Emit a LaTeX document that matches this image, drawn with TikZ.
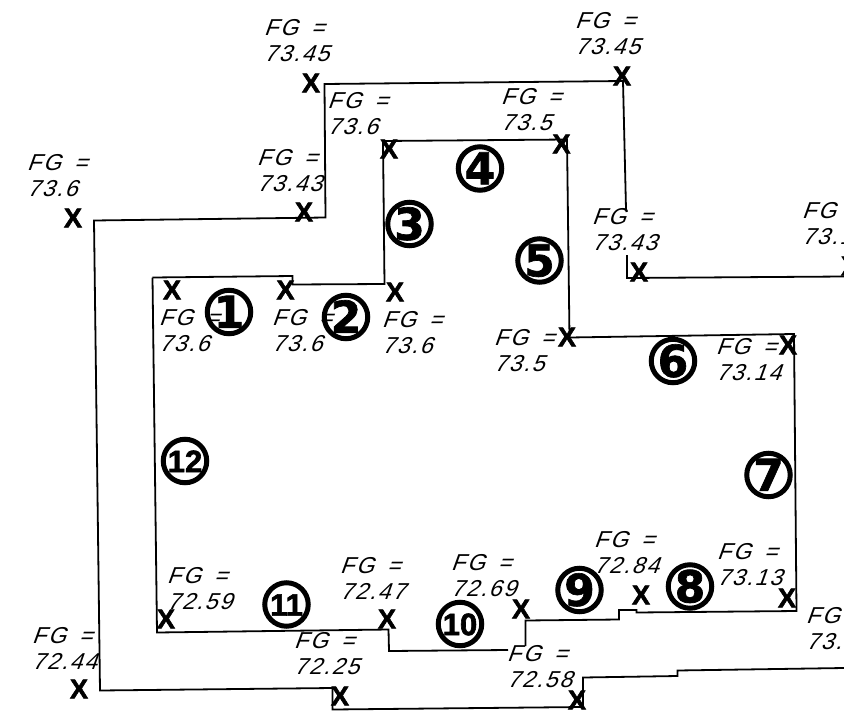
\documentclass[tikz,border=0pt]{standalone}
\usepackage{fontspec}
\setmainfont{Liberation Sans}
\newfontfamily\fgfont[FakeSlant=0.36,LetterSpace=8,WordSpace=1.6]{Liberation Sans}
\newfontfamily\spotfont[FakeBold=2]{Liberation Sans Bold}
\newfontfamily\numfont[FakeBold=1.5]{DejaVu Sans Bold}
\newfontfamily\smallfont[FakeBold=2]{Liberation Sans Bold}
\newcommand{\fg}[1]{FG =\\#1}
\newcommand{\dg}[1]{\makebox[0pt]{\raisebox{-0.36em}[0pt][0pt]{#1}}}
\begin{document}
\begin{tikzpicture}[x=1pt,y=-1pt,line width=1.8pt,
	fg label/.style={anchor=west,inner sep=0pt,align=left,font=\fgfont\fontsize{23}{26}\selectfont},
	spot/.style={inner sep=0pt,font=\spotfont\fontsize{27}{27}\selectfont},
	main node/.style={circle,draw,line width=5pt,minimum size=43.5pt,inner sep=0pt,font=\numfont\fontsize{44}{44}\selectfont},
	small node/.style={main node,font=\smallfont\fontsize{31}{31}\selectfont}]

	\clip (0,0) rectangle (844,718);

	\draw (844,276.5) -- (627,278) -- (627,255);
	\draw (626,209) -- (623,81) -- (324.5,84) -- (325.5,217.5) -- (94,220.5) -- (100,690.5) -- (332.5,688)
	-- (332.5,709.5) -- (583,707) -- (583,677.5) -- (677.5,676) -- (677.5,670.5) -- (844,668);

	\draw (152.5,277.5) -- (292.5,276) -- (292.5,284.5) -- (384.5,284) -- (383,141) -- (567,139.5)
	-- (569.5,337.5) -- (633,336.5) -- (794,334) -- (796.5,611) -- (636.5,612.5) -- (636.5,610)
	-- (619,610) -- (619,619.5) -- (525.5,620.5) -- (525.5,646);
	\draw (508,650) -- (389,651) -- (388.5,629.5) -- (157,632.5) -- (152.5,277.5);

	\node[fg label] (fga) at (263,40.5) {\fg{73.45}};
	\node[fg label] (fgb) at (326.5,114) {\fg{73.6}};
	\node[fg label] (fgc) at (256,171) {\fg{73.43}};
	\node[fg label] (fgd) at (26,176) {\fg{73.6}};
	\node[fg label] (fge) at (574,34) {\fg{73.45}};
	\node[fg label] (fgf) at (500,110) {\fg{73.5}};
	\node[fg label] (fgg) at (591,230) {\fg{73.43}};
	\node[fg label] (fgh) at (801,224) {\fg{73.17}};
	\node[fg label] (fgi) at (493,351) {\fg{73.5}};
	\node[fg label] (fgj) at (715,360) {\fg{73.14}};
	\node[fg label] (fgk) at (158,331) {\fg{73.6}};
	\node[fg label] (fgl) at (271,331) {\fg{73.6}};
	\node[fg label] (fgm) at (381,333) {\fg{73.6}};
	\node[fg label] (fgn) at (166,589) {\fg{72.59}};
	\node[fg label] (fgo) at (339,578) {\fg{72.47}};
	\node[fg label] (fgp) at (31,648) {\fg{72.44}};
	\node[fg label] (fgq) at (293,654) {\fg{72.25}};
	\node[fg label] (fgr) at (450,576) {\fg{72.69}};
	\node[fg label] (fgs) at (593,553) {\fg{72.84}};
	\node[fg label] (fgt) at (716,565) {\fg{73.13}};
	\node[fg label] (fgu) at (506,667) {\fg{72.58}};
	\node[fg label] (fgv) at (805,629) {\fg{73.6}};

	\node[spot] (xa) at (311,83) {X};
	\node[spot] (xb) at (389,149) {X};
	\node[spot] (xc) at (304,212) {X};
	\node[spot] (xd) at (73,218) {X};
	\node[spot] (xe) at (172,290) {X};
	\node[spot] (xf) at (285.5,290) {X};
	\node[spot] (xg) at (395,292) {X};
	\node[spot] (xh) at (622,76) {X};
	\node[spot] (xi) at (561.5,144) {X};
	\node[spot] (xj) at (639,272) {X};
	\node[spot] (xk) at (567,337) {X};
	\node[spot] (xl) at (788,345) {X};
	\node[spot] (xm) at (850,266) {X};
	\node[spot] (xn) at (787,598) {X};
	\node[spot] (xo) at (641,595) {X};
	\node[spot] (xp) at (521,609) {X};
	\node[spot] (xq) at (387,619) {X};
	\node[spot] (xr) at (166,619) {X};
	\node[spot] (xs) at (340,696) {X};
	\node[spot] (xt) at (79,689) {X};
	\node[spot] (xu) at (577,700) {X};

	\node[main node] (one) at (229,312) {\dg{1}};
	\node[main node] (two) at (346,317) {\dg{2}};
	\node[main node] (three) at (409.5,224) {\dg{3}};
	\node[main node] (four) at (480,168.5) {\dg{4}};
	\node[main node] (five) at (539.5,260.5) {\dg{5}};
	\node[main node] (six) at (673,361) {\dg{6}};
	\node[main node] (seven) at (768.5,475) {\dg{7}};
	\node[main node] (eight) at (690,586.5) {\dg{8}};
	\node[main node] (nine) at (579.5,590) {\dg{9}};
	\node[small node] (ten) at (460,624) {\dg{10}};
	\node[small node] (eleven) at (286.5,604.5) {\dg{11}};
	\node[small node] (twelve) at (185,461) {\dg{12}};
\end{tikzpicture}
\end{document}
